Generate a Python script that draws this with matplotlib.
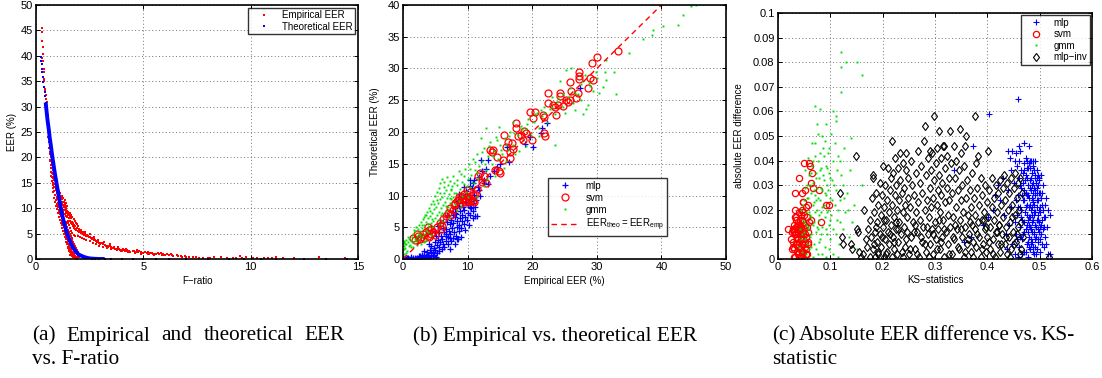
import numpy as np
import matplotlib
matplotlib.use("Agg")
import matplotlib.pyplot as plt

plt.rcParams['font.family'] = ['Liberation Sans', 'DejaVu Sans']
plt.rcParams['mathtext.default'] = 'regular'

# ---------------- (a) EER vs. F-ratio ----------------
emp_eer_a = [
    (0.27,45.4),(0.28,44.6),(0.29,43.0),(0.31,41.7),(0.32,40.3),(0.30,39.6),(0.33,38.9),(0.36,37.5),
    (0.35,36.8),(0.37,35.5),(0.38,35.0),(0.42,33.4),(0.44,33.0),(0.45,32.2),(0.47,31.4),(0.49,31.0),
    (0.46,30.4),(0.51,30.0),(0.53,29.2),(0.50,28.6),(0.56,28.4),(0.55,27.2),(0.58,26.9),(0.60,26.2),
    (0.57,25.6),(0.62,25.3),(0.59,24.4),(0.64,24.8),(0.61,23.6),(0.66,23.0),(0.63,22.3),(0.60,21.8),
    (0.68,22.1),(0.70,21.2),(0.65,20.6),(0.72,20.3),(0.67,19.4),(0.74,19.6),(0.76,18.8),(0.70,18.0),
    (0.78,18.3),(0.80,17.5),(0.73,17.0),(0.82,16.9),(0.85,16.2),(0.77,15.9),(0.80,15.0),(0.88,15.6),
    (0.84,14.2),(0.90,14.8),(0.92,14.1),(0.86,13.4),(0.95,13.5),(0.98,12.9),(0.90,12.6),(0.83,12.0),
    (1.00,12.3),(1.03,11.9),(0.94,11.6),(1.06,11.5),(0.97,10.9),(1.08,10.8),(1.12,10.9),(1.02,10.3),
    (1.15,10.5),(1.10,10.0),(1.18,10.2),(1.05,9.6),(1.22,9.9),(1.25,9.6),(1.12,9.2),(1.28,9.3),
    (1.30,8.9),(1.15,8.7),(1.35,8.8),(1.40,8.5),(1.20,8.1),(1.45,8.2),(1.52,8.0),(1.24,7.6),
    (1.50,7.5),(1.58,7.4),(1.28,7.0),(1.62,7.0),(1.68,6.8),(1.32,6.5),(1.72,6.5),(1.78,6.2),
    (1.35,6.0),(1.82,6.0),(1.88,5.8),(1.40,5.5),(1.95,5.6),(2.02,5.4),(1.44,5.0),(2.10,5.2),
    (2.18,5.0),(1.48,4.6),(2.25,4.8),(2.32,4.6),(1.52,4.2),(2.40,4.5),(2.48,4.3),(1.56,3.8),
    (2.55,4.1),(2.62,3.9),(1.60,3.4),(2.70,3.7),(2.78,3.5),(1.64,3.0),(2.85,3.3),(2.92,3.2),
    (1.68,2.7),(3.00,3.0),(3.10,2.9),(1.72,2.4),(3.20,2.7),(3.30,2.6),(1.76,2.1),(3.40,2.5),
    (3.50,2.3),(1.80,1.8),(3.60,2.2),(3.70,2.0),(1.84,1.5),(3.80,1.9),(3.90,1.8),(1.88,1.2),
    (4.00,1.8),(4.10,1.7),(1.92,0.9),(4.20,1.6),(4.35,1.6),(1.95,0.6),(4.50,1.5),(4.60,1.4),
    (1.98,0.3),(4.75,1.4),(4.90,1.3),(1.85,0.1),(5.00,1.2),(5.15,1.2),(5.30,1.1),(5.45,1.0),
    (5.60,1.0),(5.75,0.9),(5.90,0.9),(6.00,0.8),(6.20,0.7),(6.40,0.6),(6.60,0.5),(6.80,0.4),
    (7.00,0.4),(7.30,0.3),(7.60,0.2),(8.00,0.2),(8.30,0.4),(8.60,0.3),(9.20,0.2),(9.50,0.5),
    (9.80,0.3),(10.30,0.2),(10.80,0.1),(11.20,0.3),(11.50,0.1),(12.00,0.1),(13.20,0.3),(14.40,0.1),
    (1.10,12.5),(1.14,11.8),(1.20,11.0),(1.26,10.6),(1.30,10.2),(1.33,9.6),(1.38,9.3),(1.42,9.8),
    (1.36,10.4),(1.45,9.0),(1.48,8.7),(1.55,8.6),(1.60,8.2),(1.26,8.4),(1.32,7.8),(1.38,7.2),
    (1.42,6.8),(1.46,6.3),(1.50,5.8),(1.55,5.4),(1.58,5.0),(1.62,4.6),(1.66,4.2),(1.70,3.8),
    (1.74,3.4),(1.78,3.0),(1.82,2.6),(1.86,2.2),(1.90,1.8),(1.94,1.4),(1.36,5.6),(1.40,4.8),
    (1.45,4.0),(1.50,3.5),(1.55,2.8),(1.60,2.2),(1.65,1.6),(1.70,1.0),(1.75,0.5),(1.80,0.2),
    (1.60,0.7),(1.52,1.6),(1.48,2.4),(1.44,3.2),(1.96,4.6),(2.05,4.4),(2.15,4.2),(2.25,4.0),
    (2.35,3.8),(2.50,3.5),(2.65,3.2),(2.80,2.9),(2.95,2.6),(3.10,2.4),(3.30,2.2),(3.50,2.0),
    (3.75,1.7),(4.00,1.5),(4.30,1.3),(4.60,1.2),(4.90,1.0),(5.20,0.9),(5.50,0.8),(5.85,0.7),
    (2.00,6.0),(2.10,5.7),(2.30,5.3),(2.50,4.9),(2.70,4.4),(2.90,3.8),(3.15,3.3),(3.45,2.9),
    (3.80,2.4),(4.20,2.0),(4.70,1.7),(5.20,1.4),(5.80,1.1),(6.30,0.9),(0.95,15.2),(1.00,14.3),
    (1.05,13.3),(0.88,16.5),(0.92,16.0),(1.08,13.0),(1.18,12.2),(1.22,11.3),(1.60,9.0),(1.65,8.6),
    (1.70,8.2),(1.75,7.8),(1.80,7.4),(1.85,7.0),(1.90,6.8),(1.95,6.4),
    (0.72,17.2),(0.75,16.1),(0.78,14.6),(0.81,13.2),(0.86,12.1),(0.89,11.2),(0.93,10.4),(0.99,9.8),
    (1.03,9.0),(1.07,8.3),(1.11,7.6),(1.16,7.1),(1.19,6.6),(1.23,6.1),(1.27,5.5),(1.31,4.9),
    (1.34,4.4),(1.38,3.9),(1.41,3.4),(1.46,2.9),(1.49,2.2),(1.53,1.8),(1.57,1.3),(1.62,1.0),
    (1.67,0.6),(1.72,0.3),(1.77,0.9),(1.83,0.5),(1.89,0.2),(1.93,0.05),(0.79,16.8),(0.83,15.5),
    (0.87,14.8),(0.91,13.8),(0.96,12.0),(1.01,11.1),(1.04,10.6),(1.09,9.4),(1.13,8.8),(1.17,8.4),
    (1.21,7.4),(1.24,6.9),(1.29,6.3),(1.33,5.8),(1.37,5.1),(1.41,4.4),(1.47,3.6),(1.51,3.0),
    (1.56,2.5),(1.63,1.9),(1.69,1.4),(1.74,1.1),(1.79,0.7),(1.86,0.35),(1.14,12.9),(1.19,11.9),
    (1.23,12.4),(1.29,11.2),(1.34,10.9),(1.39,10.1),(1.44,9.5),(1.50,9.3),(1.56,8.9),(1.62,8.0),
    (1.67,7.3),(1.73,7.1),(1.79,6.7),(1.84,6.4),(1.91,6.1),(1.98,5.8),(2.06,5.6),(2.14,5.4),
    (2.22,5.3),(2.29,5.0),(2.37,4.7),(2.44,4.6),(2.53,4.4),(2.60,4.1),(2.68,4.0),(2.75,3.8),
    (2.83,3.6),(2.91,3.5),(2.98,3.2),(3.06,3.1),(3.14,2.9),(3.22,2.8),(3.28,2.5),(3.36,2.4),
    (3.44,2.6),(3.55,2.1),(3.65,2.3),(3.72,1.9),(3.85,2.0),(3.95,1.6),(4.06,1.9),(4.15,1.5),
    (4.25,1.7),(4.40,1.4),(4.55,1.6),(4.68,1.3),(4.82,1.5),(4.95,1.1),(5.08,1.3),(5.25,1.0),
    (5.40,1.2),(5.55,0.9),(5.70,1.1),(5.95,0.8),(6.10,1.0),(6.35,0.7),(6.55,0.8),(6.75,0.5),
    (6.95,0.6),(7.15,0.3),(7.45,0.4),(7.80,0.2),(8.10,0.1),(8.90,0.2),(9.30,0.1),(9.60,0.2),
    (10.10,0.1),(10.60,0.2),(11.00,0.1),(0.52,27.8),(0.54,26.0),(0.57,24.0),(0.60,23.0),(0.63,21.0),
    (0.65,19.2),(0.68,18.6),(0.70,16.4),(0.74,15.3),(0.77,14.0),(1.53,6.6),(1.47,7.0),(1.58,6.1),
    (1.64,5.6),(1.70,5.2),(1.76,4.8),(1.83,4.5),(1.27,12.0),(1.33,11.6),(1.40,11.0),(1.46,10.5),
]

theo_eer_a = [
    (0.23,39.8),(0.24,39.0),(0.26,38.4),(0.28,37.5),(0.30,36.9),(0.32,35.8),(0.34,34.9),(0.37,33.8),
    (0.40,32.8),(0.42,32.0),(0.45,30.8),(0.47,30.0),(0.50,28.8),(0.53,27.6),(0.56,26.6),(0.58,26.0),
    (0.61,25.0),(0.64,23.8),(0.67,23.0),(0.70,22.1),(0.73,21.1),(0.76,20.2),(0.79,19.3),(0.81,18.8),
    (0.84,17.9),(0.87,17.1),(0.90,16.3),(0.93,15.6),(0.97,14.6),(1.01,13.6),(1.05,12.6),(1.09,11.6),
    (1.13,10.6),(1.17,9.8),(1.20,9.1),(1.24,8.3),(1.28,7.6),(1.32,7.0),(1.36,6.3),(1.40,5.7),
    (1.45,5.0),(1.50,4.4),(1.55,3.9),(1.59,3.4),(1.63,3.1),(1.68,2.6),(1.73,2.2),(1.78,1.9),
    (1.82,1.6),(1.87,1.4),(1.93,1.1),(2.00,0.85),(2.08,0.7),(2.18,0.5),(2.28,0.35),(2.38,0.22),
    (2.49,0.13),(2.60,0.08),(2.75,0.04),(2.95,0.0),(3.20,0.0),(3.50,0.0),(4.00,0.0),(4.50,0.0),
    (5.00,0.0),(5.60,0.0),(6.20,0.0),(7.00,0.0),(8.00,0.0),(9.00,0.0),(9.70,0.0),(10.50,0.0),
    (11.20,0.0),(12.50,0.0),(13.50,0.0),(14.50,0.0),
]

# ---------------- (b) theoretical vs. empirical EER ----------------
mlp_b = [
    (0.2,0.0),(0.5,0.0),(0.8,0.1),(1.0,0.0),(1.3,0.1),(1.5,0.0),(1.8,0.1),(2.0,0.0),(2.2,0.2),(2.5,0.1),
    (2.8,0.2),(3.0,0.1),(3.2,0.3),(3.5,0.2),(3.8,0.4),(4.0,0.3),(4.3,0.5),(4.6,0.4),(2.6,0.4),(3.3,0.6),
    (0.3,0.2),(1.2,0.3),(0.6,0.1),(1.6,0.2),(2.3,0.0),(2.9,0.4),(3.6,0.5),(4.1,0.1),(4.8,0.6),(5.1,0.3),
    (3.7,1.1),(3.9,0.6),(4.2,1.4),(4.3,0.9),(4.4,2.0),(4.7,1.1),(4.8,1.7),(4.9,2.6),(5.0,1.4),(5.3,0.9),
    (5.2,2.2),(5.4,3.0),(5.6,1.9),(5.5,1.2),(5.8,2.7),(5.9,3.6),(6.0,1.6),(6.2,2.4),(6.1,3.2),(6.4,4.3),
    (6.3,1.9),(6.6,2.9),(6.7,3.7),(6.6,4.8),(6.9,2.3),(7.0,3.4),(7.1,4.4),(7.2,5.5),(7.4,2.8),(7.3,3.9),
    (7.6,4.9),(7.5,6.1),(7.8,3.3),(7.9,4.3),(7.8,5.6),(8.1,6.6),(8.2,3.7),(8.3,5.0),(8.4,6.0),(8.2,7.1),
    (8.6,4.4),(8.7,5.4),(8.8,6.5),(8.9,7.6),(9.0,4.9),(9.2,6.0),(9.1,7.0),(9.3,8.2),(9.4,5.5),(9.6,6.6),
    (9.5,7.7),(9.7,8.9),(9.9,6.1),(10.0,7.3),(10.1,8.5),(10.2,9.6),(10.4,6.9),(10.5,8.1),(10.6,9.1),(10.8,7.6),
    (10.9,8.8),(11.0,10.1),(11.2,8.2),(11.3,9.3),(5.1,3.7),(6.8,5.9),(7.7,7.0),(9.8,10.7),(8.5,9.2),(10.7,11.2),
    (4.1,2.3),(3.2,1.2),(2.9,0.7),(2.4,0.5),(6.2,4.9),(5.6,4.2),(8.0,8.1),(9.3,9.7),(10.9,11.9),(11.7,12.9),
    (12.3,13.8),(12.9,14.2),(7.3,1.6),(8.0,2.4),(8.5,3.1),(9.0,3.5),(9.6,4.6),(10.2,5.4),(10.8,6.5),(11.1,6.7),
    (4.9,4.3),(5.8,5.6),(6.7,4.0),(7.2,3.3),(8.3,3.1),(8.0,7.3),(8.6,8.4),(9.2,8.8),(9.6,10.0),(10.3,8.2),
    (10.4,11.5),(11.0,12.4),(10.3,12.4),(11.4,6.7),(11.8,10.8),(12.1,15.6),(12.6,12.4),(13.2,15.6),(13.5,13.0),
    (14.1,13.9),(14.5,14.5),(15.0,14.9),(16.1,17.7),(16.4,15.3),(18.9,18.1),(19.7,19.2),(21.5,20.6),(21.3,19.8),
    (22.3,21.4),(27.4,27.0),(12.6,12.0),(13.1,11.8),(11.6,11.3),(11.9,9.9),(9.4,11.3),(8.7,10.3),(7.8,7.4),
    (6.8,7.0),(6.2,5.8),(5.4,5.2),(20.1,17.7),
]

svm_b = [
    (1.5,3.3),(1.8,3.0),(2.1,4.0),(2.3,3.6),(2.6,3.2),(2.8,3.5),(3.1,3.9),(3.3,3.3),(3.6,4.2),(3.8,3.7),
    (4.0,4.6),(4.1,3.4),(4.3,3.9),(4.4,4.8),(4.6,4.3),(4.9,3.8),(5.2,5.1),(5.7,5.6),(5.9,4.8),(6.2,6.3),
    (6.6,6.8),(7.0,7.2),(7.2,8.0),(7.4,6.9),(7.7,7.7),(7.9,8.5),(8.0,8.8),(8.3,9.1),(8.5,9.3),(8.7,9.7),
    (8.9,8.7),(9.1,9.5),(9.3,9.6),(9.5,10.2),(9.6,8.9),(9.8,9.3),(10.0,9.0),(10.1,9.8),(10.3,10.6),(10.4,9.1),
    (10.6,9.3),(10.8,9.2),(11.0,8.9),(11.2,10.2),(11.4,11.1),(11.6,13.0),(11.9,13.5),(12.2,12.1),(12.6,13.0),(12.9,11.9),
    (13.4,17.2),(13.7,16.9),(13.9,17.2),(14.2,14.0),(14.5,16.1),(14.8,13.8),(15.0,13.5),(15.5,15.6),(15.7,19.5),(16.0,17.7),
    (16.2,18.5),(16.5,15.9),(16.5,16.9),(16.8,18.2),(17.0,17.4),(17.5,21.4),(17.5,20.6),(17.8,19.3),(18.3,19.6),(18.6,18.7),
    (18.8,20.1),(19.1,19.8),(19.6,23.2),(19.9,18.7),(20.1,22.2),(20.4,23.2),(21.7,22.7),(21.9,22.4),(21.9,19.8),(22.0,19.3),
    (22.5,26.1),(22.5,24.5),(23.2,24.3),(23.5,24.0),(23.7,22.7),(24.0,24.3),(24.3,26.1),(24.3,25.6),(24.8,24.1),(25.3,25.0),
    (25.5,24.8),(25.8,25.0),(26.0,26.4),(25.9,27.9),(26.8,25.4),(27.1,26.1),(27.2,29.5),(27.2,28.8),(27.2,28.3),(28.6,26.9),
    (28.9,28.5),(29.2,30.8),(29.4,28.2),(30.1,31.8),(33.3,32.7),(9.9,10.8),(9.0,9.9),(10.8,10.1),(6.0,5.2),(3.9,5.1),
]

gmm_b = [
    (0.1,1.5),(0.1,2.0),(0.2,2.6),(0.1,2.9),(0.3,1.8),(0.5,2.3),(0.7,2.7),(0.4,3.0),(0.9,2.1),(1.0,3.1),
    (0.6,1.2),(0.2,0.8),(1.2,2.8),(1.4,3.4),(1.5,2.6),(1.6,3.9),(1.8,3.2),(1.9,4.4),(2.0,2.9),(2.1,3.6),
    (2.3,4.8),(2.4,3.1),(2.5,5.3),(2.6,3.8),(2.7,4.4),(2.8,5.9),(2.9,3.4),(3.0,4.9),(1.3,1.9),(2.2,2.2),
    (3.1,6.3),(3.2,4.0),(3.3,5.4),(3.4,6.9),(3.5,4.5),(3.6,5.9),(3.7,7.4),(3.8,4.2),(3.9,6.4),(4.0,8.0),
    (4.1,5.1),(4.2,6.8),(4.3,8.6),(4.4,5.6),(4.5,7.3),(4.6,9.2),(4.7,6.0),(4.8,7.8),(4.9,10.0),(5.0,6.5),
    (3.5,3.0),(4.4,3.8),(5.1,8.2),(5.2,10.6),(5.3,7.0),(5.4,8.8),(5.5,11.2),(5.6,7.4),(5.7,9.4),(5.8,12.0),
    (5.9,8.0),(6.0,9.8),(6.1,12.6),(6.2,8.5),(6.3,10.4),(6.4,11.3),(6.5,9.0),(6.6,10.9),(6.7,7.6),(6.8,9.6),
    (6.9,11.6),(7.0,8.2),(7.1,10.2),(7.2,12.3),(7.3,8.8),(7.4,10.8),(7.5,9.4),(7.6,11.5),(7.7,13.0),(7.8,9.8),
    (7.9,11.9),(8.0,8.6),(6.1,6.0),(5.5,5.5),(8.2,10.4),(8.4,12.5),(8.6,9.2),(8.8,11.0),(9.0,13.4),(9.2,10.0),
    (9.4,11.8),(9.6,14.2),(9.8,10.6),(10.0,12.6),(10.2,15.0),(10.4,11.3),(10.6,13.3),(10.8,15.8),(11.0,12.0),(11.2,14.0),
    (11.4,16.5),(11.6,12.8),(11.8,14.7),(12.0,19.0),(9.0,8.3),(10.1,9.8),(12.3,15.4),(12.6,17.5),(12.9,20.6),(12.9,14.0),
    (13.2,16.2),(13.5,18.5),(13.8,15.0),(14.1,17.0),(14.4,19.2),(14.7,15.8),(15.0,18.0),(15.4,16.6),(15.8,19.0),(16.2,17.2),
    (16.6,20.0),(17.0,18.0),(17.4,16.5),(17.8,19.5),(18.2,21.0),(18.6,18.8),(19.0,20.4),(19.4,22.0),(19.8,19.6),(13.0,12.6),
    (16.0,15.5),(18.0,17.0),(14.8,20.8),(17.0,21.5),(20.3,21.5),(20.7,23.0),(21.1,20.6),(21.5,22.5),(21.9,24.0),(22.3,21.5),
    (22.7,23.6),(23.5,18.0),(23.1,25.5),(23.5,22.8),(23.9,24.8),(24.3,28.0),(24.7,26.0),(25.1,23.0),(25.5,25.5),(25.9,27.0),
    (26.3,24.5),(26.7,23.5),(27.1,26.0),(27.5,27.5),(27.6,25.0),(27.8,22.8),(28.2,29.0),(28.6,24.3),(28.4,23.7),(29.0,27.2),
    (29.4,26.5),(29.8,29.5),(26.0,30.0),(25.2,29.7),(30.4,26.1),(30.9,27.1),(31.4,28.2),(31.2,29.5),(32.7,29.5),(35.0,32.4),
    (37.2,34.6),(38.7,36.1),(38.6,35.2),(40.2,36.7),(42.5,36.8),(43.3,38.5),(44.6,39.8),(45.3,40.0),(33.0,26.0),(31.5,31.3),
    (0.3,2.4),(0.8,3.4),(1.1,2.2),(1.7,4.6),(2.0,5.1),(2.4,4.0),(2.9,5.4),(3.2,6.6),(3.6,7.0),(3.8,5.5),
    (4.2,7.6),(4.5,6.3),(4.8,8.6),(5.2,9.3),(5.4,6.2),(5.7,10.4),(6.0,7.2),(6.3,12.1),(6.6,8.4),(6.8,12.9),
    (7.2,9.6),(7.5,11.0),(7.9,10.4),(8.3,11.6),(8.7,13.8),(9.1,12.1),(9.5,13.0),(9.9,11.5),(10.3,14.1),(10.7,12.2),
    (11.1,15.3),(11.5,13.6),(12.2,16.9),(12.7,15.0),(13.3,17.8),(13.9,16.2),(14.6,18.7),(15.2,17.1),(15.9,18.0),(16.4,19.3),
    (17.2,19.9),(18.4,20.4),(19.2,21.3),(20.5,22.8),(21.3,23.5),(22.0,23.0),(23.0,24.0),(24.0,25.3),(24.8,24.0),(26.6,26.2),
    (27.9,28.0),(28.8,27.7),(30.0,28.5),(11.4,9.8),(12.5,11.5),(14.2,13.0),(15.6,14.3),(19.0,17.8),(21.0,19.3),(8.4,7.7),
    (7.1,6.5),(3.3,2.6),(2.8,2.4),(0.1,2.5),(0.0,1.6),(0.0,2.8),(0.4,1.0),(1.5,1.9),(5.9,7.0),(4.6,5.0),
]

identity_b = [0.0, 40.0]

# ---------------- (c) absolute EER difference vs. KS statistic ----------------
mlp_c = [
    (0.452,0.002),(0.455,0.010),(0.457,0.018),(0.458,0.026),(0.460,0.033),(0.461,0.005),(0.462,0.013),(0.463,0.021),
    (0.464,0.029),(0.465,0.036),(0.466,0.008),(0.467,0.016),(0.468,0.024),(0.469,0.031),(0.470,0.003),(0.470,0.039),
    (0.471,0.011),(0.472,0.019),(0.473,0.027),(0.474,0.034),(0.475,0.006),(0.475,0.014),(0.476,0.022),(0.477,0.030),
    (0.478,0.037),(0.478,0.001),(0.479,0.009),(0.480,0.017),(0.480,0.025),(0.481,0.032),(0.482,0.040),(0.482,0.004),
    (0.483,0.012),(0.484,0.020),(0.484,0.028),(0.485,0.035),(0.486,0.007),(0.486,0.015),(0.487,0.023),(0.488,0.031),
    (0.488,0.038),(0.489,0.002),(0.490,0.010),(0.490,0.018),(0.491,0.026),(0.492,0.033),(0.492,0.005),(0.493,0.013),
    (0.494,0.021),(0.494,0.029),(0.495,0.036),(0.496,0.008),(0.496,0.016),(0.497,0.024),(0.498,0.032),(0.499,0.011),
    (0.500,0.019),(0.500,0.027),(0.501,0.003),(0.502,0.034),(0.503,0.014),(0.504,0.022),(0.505,0.006),(0.506,0.030),
    (0.508,0.017),(0.510,0.009),(0.512,0.025),(0.514,0.013),(0.516,0.020),(0.515,0.002),(0.520,0.018),(0.520,0.002),
    (0.470,0.047),(0.480,0.046),(0.460,0.046),(0.458,0.065),(0.403,0.059),(0.372,0.046),(0.440,0.044),(0.448,0.044),
    (0.455,0.043),(0.443,0.041),(0.336,0.036),(0.355,0.007),(0.368,0.009),(0.392,0.014),(0.402,0.017),(0.410,0.020),
    (0.415,0.026),(0.420,0.030),(0.425,0.024),(0.430,0.033),(0.432,0.018),(0.435,0.010),(0.438,0.004),(0.440,0.028),
    (0.442,0.014),(0.445,0.036),(0.446,0.021),(0.448,0.006),(0.450,0.031),(0.452,0.040),(0.453,0.015),(0.454,0.024),
    (0.456,0.038),(0.459,0.001),(0.461,0.040),(0.463,0.044),(0.473,0.041),(0.476,0.040),(0.483,0.040),(0.487,0.040),
    (0.491,0.040),(0.495,0.033),(0.497,0.034),(0.499,0.033),(0.470,0.028),(0.474,0.012),(0.479,0.021),(0.483,0.008),
    (0.487,0.027),(0.491,0.014),(0.495,0.004),(0.498,0.020),(0.476,0.033),(0.480,0.005),(0.485,0.018),(0.489,0.036),
    (0.493,0.009),(0.467,0.002),(0.464,0.017),(0.471,0.024),(0.477,0.016),(0.481,0.029),(0.486,0.011),(0.490,0.022),
    (0.494,0.027),(0.462,0.009),(0.469,0.035),(0.475,0.026),(0.488,0.003),(0.492,0.019),(0.496,0.012),(0.500,0.008),
    (0.504,0.016),(0.508,0.005),(0.503,0.025),(0.506,0.012),(0.510,0.022),
    (0.465,0.020),(0.468,0.010),(0.472,0.032),(0.474,0.003),(0.476,0.018),(0.478,0.026),(0.479,0.014),(0.481,0.037),
    (0.482,0.022),(0.484,0.006),(0.485,0.030),(0.487,0.016),(0.488,0.024),(0.489,0.011),(0.491,0.034),(0.492,0.028),
    (0.493,0.002),(0.494,0.016),(0.495,0.024),(0.497,0.007),(0.498,0.027),(0.499,0.015),(0.501,0.021),(0.502,0.010),
    (0.473,0.021),(0.477,0.007),(0.481,0.013),(0.485,0.025),(0.489,0.019),(0.493,0.031),(0.497,0.018),(0.470,0.015),
    (0.466,0.026),(0.462,0.030),(0.459,0.021),(0.457,0.008),(0.471,0.036),(0.483,0.033),(0.487,0.005),(0.491,0.008),
    (0.479,0.039),(0.475,0.037),(0.505,0.027),(0.507,0.020),(0.509,0.013),(0.511,0.017),(0.513,0.006),(0.474,0.027),
    (0.486,0.021),(0.490,0.029),(0.478,0.011),(0.482,0.017),(0.496,0.030),(0.500,0.013),
]

svm_c = [
    (0.025,0.008),(0.028,0.012),(0.030,0.004),(0.031,0.014),(0.032,0.010),(0.033,0.001),(0.034,0.006),(0.035,0.013),
    (0.035,0.017),(0.036,0.003),(0.037,0.009),(0.038,0.011),(0.038,0.015),(0.039,0.002),(0.040,0.007),(0.040,0.019),
    (0.041,0.012),(0.042,0.004),(0.042,0.016),(0.043,0.009),(0.044,0.001),(0.044,0.013),(0.045,0.006),(0.045,0.020),
    (0.046,0.011),(0.047,0.003),(0.047,0.015),(0.048,0.008),(0.049,0.018),(0.050,0.012),(0.050,0.000),(0.051,0.005),
    (0.052,0.014),(0.053,0.021),(0.054,0.009),(0.055,0.002),(0.056,0.017),(0.057,0.011),(0.058,0.006),(0.060,0.015),
    (0.032,0.020),(0.036,0.008),(0.039,0.005),(0.043,0.018),(0.046,0.002),(0.048,0.010),(0.052,0.007),(0.030,0.011),
    (0.034,0.016),(0.041,0.001),(0.028,0.005),(0.037,0.013),(0.054,0.004),(0.044,0.010),(0.020,0.012),(0.027,0.004),
    (0.050,0.039),(0.041,0.033),(0.032,0.027),(0.045,0.027),(0.047,0.023),(0.048,0.023),(0.052,0.028),(0.060,0.039),
    (0.065,0.035),(0.063,0.031),(0.062,0.038),(0.066,0.029),(0.078,0.028),(0.092,0.022),(0.097,0.022),(0.082,0.015),
    (0.058,0.022),(0.063,0.016),(0.029,0.007),(0.031,0.001),(0.033,0.012),(0.036,0.006),(0.039,0.014),(0.042,0.010),
    (0.044,0.004),(0.046,0.016),(0.049,0.006),(0.051,0.010),(0.053,0.002),(0.055,0.013),(0.033,0.017),(0.040,0.003),
    (0.047,0.019),(0.057,0.007),(0.026,0.011),(0.035,0.010),(0.038,0.008),(0.043,0.013),
]

gmm_c = [
    (0.040,0.005),(0.042,0.012),(0.044,0.020),(0.046,0.003),(0.048,0.016),(0.050,0.024),(0.052,0.008),(0.054,0.019),
    (0.055,0.030),(0.057,0.012),(0.058,0.025),(0.060,0.004),(0.060,0.034),(0.062,0.018),(0.063,0.027),(0.064,0.010),
    (0.065,0.038),(0.066,0.022),(0.067,0.031),(0.068,0.006),(0.069,0.015),(0.070,0.042),(0.071,0.026),(0.072,0.035),
    (0.073,0.011),(0.074,0.020),(0.075,0.029),(0.076,0.002),(0.077,0.040),(0.078,0.016),(0.079,0.033),(0.080,0.024),
    (0.081,0.008),(0.082,0.037),(0.083,0.019),(0.084,0.028),(0.085,0.013),(0.086,0.045),(0.087,0.022),(0.088,0.032),
    (0.089,0.005),(0.090,0.017),(0.091,0.038),(0.092,0.026),(0.093,0.010),(0.094,0.030),(0.095,0.043),(0.096,0.020),
    (0.097,0.014),(0.098,0.035),(0.099,0.025),(0.100,0.008),(0.101,0.051),(0.102,0.018),(0.104,0.032),(0.105,0.012),
    (0.106,0.040),(0.108,0.022),(0.110,0.058),(0.110,0.028),(0.112,0.016),(0.114,0.042),(0.116,0.006),(0.118,0.024),
    (0.120,0.084),(0.120,0.078),(0.120,0.068),(0.121,0.034),(0.124,0.012),(0.126,0.045),(0.128,0.019),(0.130,0.080),
    (0.132,0.027),(0.135,0.009),(0.138,0.036),(0.140,0.049),(0.142,0.015),(0.146,0.022),(0.150,0.004),(0.150,0.080),
    (0.160,0.075),(0.160,0.030),(0.070,0.062),(0.080,0.061),(0.075,0.055),(0.085,0.050),(0.090,0.048),(0.065,0.047),
    (0.058,0.041),(0.052,0.036),(0.056,0.006),(0.062,0.009),(0.066,0.001),(0.072,0.004),(0.078,0.007),(0.084,0.002),
    (0.092,0.001),(0.098,0.004),(0.106,0.002),(0.115,0.001),(0.046,0.010),(0.050,0.015),(0.054,0.002),(0.058,0.013),
    (0.064,0.017),(0.068,0.023),(0.074,0.013),(0.082,0.029),(0.088,0.042),(0.094,0.037),(0.100,0.033),(0.108,0.047),
    (0.112,0.036),(0.118,0.040),(0.124,0.030),(0.110,0.056),(0.105,0.060),
    (0.044,0.008),(0.047,0.022),(0.049,0.011),(0.051,0.029),(0.053,0.014),(0.056,0.025),(0.059,0.019),(0.061,0.030),
    (0.063,0.005),(0.064,0.035),(0.067,0.014),(0.069,0.028),(0.070,0.019),(0.072,0.024),(0.073,0.033),(0.076,0.012),
    (0.077,0.025),(0.079,0.018),(0.081,0.036),(0.083,0.010),(0.085,0.021),(0.086,0.034),(0.089,0.027),(0.091,0.012),
    (0.093,0.019),(0.096,0.028),(0.099,0.016),(0.103,0.024),(0.107,0.030),(0.111,0.010),(0.115,0.020),(0.119,0.015),
    (0.127,0.025),(0.134,0.020),(0.066,0.040),(0.071,0.047),(0.076,0.051),(0.081,0.043),(0.092,0.055),(0.097,0.045),
]

mlp_inv_c = [
    (0.118,0.027),(0.122,0.009),(0.124,0.006),(0.140,0.006),(0.141,0.004),(0.149,0.042),(0.150,0.012),(0.152,0.011),
    (0.155,0.003),(0.158,0.001),(0.162,0.002),(0.165,0.020),(0.168,0.008),(0.170,0.005),(0.172,0.012),(0.175,0.001),
    (0.176,0.016),(0.178,0.009),(0.180,0.025),(0.181,0.034),(0.182,0.033),(0.182,0.004),(0.184,0.019),(0.185,0.011),
    (0.186,0.001),(0.188,0.027),(0.189,0.007),(0.190,0.015),(0.191,0.022),(0.192,0.002),(0.194,0.031),(0.195,0.010),
    (0.196,0.018),(0.197,0.005),(0.199,0.026),(0.200,0.038),(0.200,0.013),(0.202,0.001),(0.203,0.021),(0.204,0.008),
    (0.205,0.030),(0.206,0.016),(0.208,0.003),(0.209,0.024),(0.210,0.037),(0.211,0.011),(0.212,0.019),(0.213,0.006),
    (0.214,0.028),(0.215,0.033),(0.216,0.014),(0.217,0.001),(0.218,0.048),(0.218,0.022),(0.219,0.009),(0.220,0.035),
    (0.221,0.017),(0.222,0.004),(0.223,0.026),(0.224,0.041),(0.225,0.012),(0.226,0.030),(0.227,0.020),(0.228,0.002),
    (0.229,0.037),(0.230,0.007),(0.231,0.024),(0.232,0.015),(0.233,0.032),(0.234,0.043),(0.235,0.010),(0.236,0.027),
    (0.237,0.003),(0.238,0.019),(0.239,0.039),(0.240,0.013),(0.241,0.029),(0.242,0.022),(0.243,0.005),(0.244,0.036),
    (0.245,0.043),(0.246,0.017),(0.247,0.011),(0.248,0.025),(0.249,0.033),(0.250,0.002),(0.252,0.021),(0.254,0.040),
    (0.255,0.009),(0.257,0.030),(0.258,0.015),(0.260,0.026),(0.261,0.004),(0.263,0.035),(0.264,0.019),(0.266,0.011),
    (0.267,0.044),(0.268,0.023),(0.270,0.001),(0.271,0.031),(0.272,0.016),(0.274,0.038),(0.275,0.007),(0.276,0.027),
    (0.278,0.013),(0.279,0.048),(0.280,0.020),(0.281,0.054),(0.282,0.003),(0.283,0.034),(0.284,0.024),(0.286,0.010),
    (0.287,0.041),(0.288,0.017),(0.290,0.044),(0.290,0.029),(0.291,0.006),(0.292,0.021),(0.293,0.036),(0.294,0.012),
    (0.295,0.043),(0.296,0.025),(0.297,0.002),(0.298,0.032),(0.299,0.058),(0.300,0.015),(0.301,0.039),(0.302,0.008),
    (0.303,0.022),(0.304,0.045),(0.305,0.028),(0.306,0.012),(0.307,0.034),(0.308,0.052),(0.309,0.004),(0.310,0.019),
    (0.311,0.041),(0.312,0.026),(0.313,0.009),(0.314,0.031),(0.315,0.046),(0.316,0.016),(0.318,0.046),(0.318,0.001),
    (0.319,0.037),(0.320,0.023),(0.321,0.011),(0.322,0.029),(0.323,0.042),(0.324,0.006),(0.325,0.018),(0.326,0.033),
    (0.327,0.024),(0.328,0.052),(0.329,0.013),(0.330,0.039),(0.332,0.002),(0.333,0.027),(0.335,0.017),(0.336,0.046),
    (0.337,0.008),(0.338,0.033),(0.340,0.021),(0.341,0.040),(0.342,0.012),(0.344,0.028),(0.345,0.004),(0.346,0.036),
    (0.347,0.053),(0.348,0.016),(0.349,0.024),(0.350,0.043),(0.351,0.009),(0.352,0.030),(0.354,0.019),(0.355,0.001),
    (0.356,0.038),(0.357,0.046),(0.358,0.013),(0.359,0.025),(0.360,0.050),(0.361,0.006),(0.362,0.032),(0.364,0.018),
    (0.365,0.010),(0.366,0.028),(0.368,0.003),(0.369,0.021),(0.370,0.014),(0.371,0.035),(0.372,0.007),(0.374,0.025),
    (0.376,0.058),(0.376,0.012),(0.377,0.018),(0.378,0.039),(0.379,0.005),(0.380,0.029),(0.382,0.015),(0.383,0.042),
    (0.384,0.009),(0.385,0.022),(0.387,0.001),(0.388,0.033),(0.389,0.016),(0.390,0.026),(0.392,0.006),(0.393,0.019),
    (0.395,0.012),(0.396,0.030),(0.398,0.003),(0.399,0.023),(0.400,0.009),(0.401,0.017),(0.402,0.044),(0.403,0.028),
    (0.405,0.004),(0.406,0.013),(0.408,0.021),(0.409,0.033),(0.410,0.008),(0.412,0.016),(0.413,0.025),(0.414,0.001),
    (0.416,0.030),(0.417,0.011),(0.418,0.019),(0.420,0.006),(0.421,0.027),(0.422,0.014),(0.424,0.032),(0.425,0.003),
    (0.426,0.022),(0.428,0.010),(0.429,0.029),(0.430,0.017),(0.432,0.034),(0.433,0.006),(0.434,0.024),(0.436,0.013),
    (0.437,0.031),(0.438,0.002),(0.440,0.020),(0.441,0.009),(0.442,0.027),(0.444,0.015),(0.445,0.033),(0.446,0.004),
    (0.448,0.022),(0.449,0.011),(0.450,0.029),(0.452,0.018),(0.453,0.035),(0.455,0.007),(0.456,0.025),(0.458,0.013),
    (0.459,0.031),(0.460,0.020),(0.462,0.002),(0.463,0.033),(0.465,0.015),(0.467,0.027),(0.468,0.009),(0.517,0.001),
    (0.183,0.006),(0.191,0.003),(0.198,0.009),(0.207,0.002),(0.214,0.010),(0.222,0.007),(0.229,0.012),(0.238,0.001),
    (0.244,0.008),(0.253,0.004),(0.259,0.011),(0.265,0.002),(0.273,0.009),(0.281,0.006),(0.289,0.001),(0.296,0.010),
    (0.303,0.004),(0.311,0.007),(0.317,0.012),(0.326,0.002),(0.334,0.009),(0.343,0.005),(0.350,0.012),(0.357,0.003),
    (0.363,0.008),(0.373,0.001),(0.381,0.010),(0.390,0.004),(0.397,0.013),(0.404,0.007),(0.411,0.002),(0.419,0.011),
    (0.427,0.006),(0.435,0.009),(0.443,0.001),(0.451,0.006),(0.457,0.010),(0.464,0.004),(0.188,0.013),(0.203,0.016),
    (0.226,0.015),(0.262,0.014),(0.285,0.013),(0.308,0.016),(0.339,0.014),(0.367,0.015),(0.394,0.016),(0.423,0.014),
    (0.447,0.017),
]

captions = [
    ["(a)", "Empirical", "and", "theoretical", "EER"], "vs. F-ratio",
    "(b) Empirical vs. theoretical EER",
    ["(c)", "Absolute", "EER", "difference", "vs.", "KS-"], "statistic",
]


def xy(pairs):
    arr = np.asarray(pairs, dtype=float)
    return arr[:, 0], arr[:, 1]


W, H = 1102, 378
fig = plt.figure(figsize=(W / 100, H / 100), dpi=100)


def add_axes(left, top, right, bottom):
    return fig.add_axes([left / W, 1 - bottom / H, (right - left) / W, (bottom - top) / H])


def style(ax):
    ax.tick_params(direction='in', top=True, right=True, length=3, width=0.7,
                   labelsize=8, pad=2.5, colors='black')
    ax.grid(True, linestyle=(0, (1, 2.5)), color='0.45', linewidth=0.7)
    ax.set_axisbelow(True)
    for s in ax.spines.values():
        s.set_linewidth(1.2)


ax_a = add_axes(36, 5, 358, 259)
ax_b = add_axes(403, 5, 726, 259)
ax_c = add_axes(778, 13, 1092, 259)

# (a)
fa, ea = xy(emp_eer_a)
ft, et = xy(theo_eer_a)
ax_a.plot(fa, ea, 's', color='red', ms=1.9, mew=0, label='Empirical EER')
dense = (ft >= 0.45) & (ft <= 3.2)
ax_a.plot(ft[dense], et[dense], '-', color='blue', lw=2.8, solid_capstyle='butt')
ax_a.plot(ft, et, 's', color='blue', ms=1.9, mew=0, label='Theoretical EER')
ax_a.set_xlim(0, 15)
ax_a.set_ylim(0, 50)
ax_a.set_xticks(np.arange(0, 16, 5))
ax_a.set_yticks(np.arange(0, 51, 5))
style(ax_a)
ax_a.set_xlabel('F\u2212ratio', fontsize=7)
ax_a.set_ylabel('EER (%)', fontsize=7)
ax_a.xaxis.set_label_coords(0.5, -0.065)
ax_a.yaxis.set_label_coords(-0.058, 0.5)
leg_a = ax_a.legend(loc='upper right', fontsize=7, frameon=True, fancybox=False,
                    edgecolor='black', handlelength=2.6, handletextpad=0.6,
                    borderpad=0.25, labelspacing=0.15, borderaxespad=0.3)
leg_a.get_frame().set_linewidth(1.0)

# (b)
mx, my = xy(mlp_b)
sx, sy = xy(svm_b)
gx, gy = xy(gmm_b)
ax_b.plot(mx, my, '+', color='blue', ms=5, mew=0.9, label='mlp')
ax_b.plot(sx, sy, 'o', mfc='none', mec='red', ms=5, mew=0.9, label='svm')
ax_b.plot(gx, gy, 's', color='#00dd00', ms=1.4, mew=0, label='gmm')
ax_b.plot(identity_b, identity_b, color='red', lw=1.0, linestyle=(0, (4, 3)),
          label='$\\mathregular{EER_{theo}= EER_{emp}}$')
ax_b.set_xlim(0, 50)
ax_b.set_ylim(0, 40)
ax_b.set_xticks(np.arange(0, 51, 10))
ax_b.set_yticks(np.arange(0, 41, 5))
style(ax_b)
ax_b.set_xlabel('Empirical EER (%)', fontsize=7)
ax_b.set_ylabel('Theoretical EER (%)', fontsize=7)
ax_b.xaxis.set_label_coords(0.5, -0.065)
ax_b.yaxis.set_label_coords(-0.07, 0.5)
leg_b = ax_b.legend(loc='center', bbox_to_anchor=(0.633, 0.205), fontsize=7, frameon=True,
                    fancybox=False, edgecolor='black', handlelength=3.0, handletextpad=0.6,
                    borderpad=0.3, labelspacing=0.2)
leg_b.get_frame().set_linewidth(1.0)

# (c)
cmx, cmy = xy(mlp_c)
csx, csy = xy(svm_c)
cgx, cgy = xy(gmm_c)
cix, ciy = xy(mlp_inv_c)
ax_c.plot(cmx, cmy, '+', color='blue', ms=4, mew=0.8, label='mlp')
ax_c.plot(csx, csy, 'o', mfc='none', mec='red', ms=4.5, mew=0.9, label='svm')
ax_c.plot(cgx, cgy, 's', color='#00dd00', ms=1.4, mew=0, label='gmm')
ax_c.plot(cix, ciy, 'd', mfc='none', mec='black', ms=4.5, mew=0.8, label='mlp\u2212inv')
ax_c.set_xlim(0, 0.6)
ax_c.set_ylim(0, 0.1)
ax_c.set_xticks(np.round(np.arange(0, 0.61, 0.1), 1))
ax_c.set_yticks(np.round(np.arange(0, 0.101, 0.01), 2))
ax_c.set_xticklabels(['0', '0.1', '0.2', '0.3', '0.4', '0.5', '0.6'])
ax_c.set_yticklabels(['0'] + ['%.2f' % v for v in np.arange(0.01, 0.095, 0.01)] + ['0.1'])
style(ax_c)
ax_c.set_xlabel('KS\u2212statistics', fontsize=7)
ax_c.set_ylabel('absolute EER difference', fontsize=7)
ax_c.xaxis.set_label_coords(0.5, -0.067)
ax_c.yaxis.set_label_coords(-0.108, 0.5)
leg_c = ax_c.legend(loc='upper right', fontsize=7, frameon=True, fancybox=False,
                    edgecolor='black', handlelength=2.4, handletextpad=0.6,
                    borderpad=0.3, labelspacing=0.15, borderaxespad=0.2)
leg_c.get_frame().set_linewidth(1.0)

# captions below the panels
cap_kw = dict(fontsize=15.3, family='Liberation Serif', va='center', ha='left')
renderer = fig.canvas.get_renderer()


def justified(words, x0, x1, ypx):
    texts = [fig.text(0, 1 - ypx / H, w, **cap_kw) for w in words]
    widths = [t.get_window_extent(renderer).width for t in texts]
    gap = (x1 - x0 - sum(widths)) / (len(words) - 1)
    x = x0
    for t, w in zip(texts, widths):
        t.set_x(x / W)
        x += w + gap


justified(captions[0], 32, 345, 336)
fig.text(32 / W, 1 - 360 / H, captions[1], **cap_kw)
fig.text(413 / W, 1 - 336 / H, captions[2], **cap_kw)
justified(captions[3], 772, 1075, 336)
fig.text(772 / W, 1 - 360 / H, captions[4], **cap_kw)

fig.savefig('out.png', dpi=100)
